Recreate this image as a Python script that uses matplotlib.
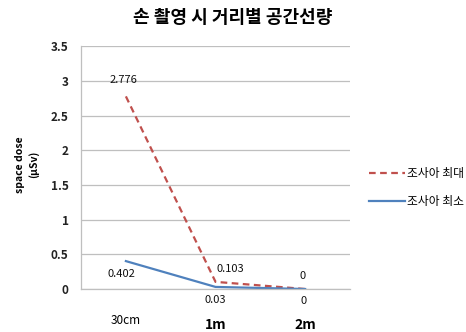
import matplotlib
matplotlib.use("Agg")
import matplotlib.pyplot as plt
from matplotlib.lines import Line2D

plt.rcParams['font.family'] = ['Noto Sans CJK KR', 'DejaVu Sans']

categories = ["30cm", "1m", "2m"]
dose_max = [2.776, 0.103, 0.0]
dose_min = [0.402, 0.03, 0.0]
max_labels = ["2.776", "0.103", "0"]
min_labels = ["0.402", "0.03", "0"]
yticks = [0, 0.5, 1, 1.5, 2, 2.5, 3, 3.5]
ytick_labels = ["0", "0.5", "1", "1.5", "2", "2.5", "3", "3.5"]

red = "#C0504D"
blue = "#4F81BD"
grid_col = "#BFBFBF"

fig = plt.figure(figsize=(4.66, 3.32), dpi=100)
ax = fig.add_axes([0.174, 0.1295, 0.577, 0.7315])

x = list(range(len(categories)))
ax.plot(x, dose_max, color=red, lw=1.6, ls=(0, (3, 2)), label="조사아 최대")
ax.plot(x, dose_min, color=blue, lw=1.6, label="조사아 최소")

ax.set_xlim(-0.5, 2.5)
ax.set_ylim(0, 3.5)
ax.set_yticks(yticks)
ax.set_yticklabels(ytick_labels, fontsize=8.5, fontweight="bold", color="#222222")
ax.yaxis.grid(True, color=grid_col, lw=0.9)
ax.set_axisbelow(True)
ax.tick_params(axis="y", length=0, pad=9)
ax.tick_params(axis="x", length=0)
ax.set_xticks(x)
ax.set_xticklabels([])
for s in ["top", "right"]:
    ax.spines[s].set_visible(False)
for s in ["left", "bottom"]:
    ax.spines[s].set_color(grid_col)
    ax.spines[s].set_linewidth(0.9)

# category labels sit well below the axis
ax.text(0, -0.46, categories[0], ha="center", va="center", fontsize=8.5,
        transform=ax.transData, clip_on=False)
for i in (1, 2):
    ax.text(i, -0.52, categories[i], ha="center", va="center", fontsize=10,
            fontweight="bold", transform=ax.transData, clip_on=False)

# value labels
lab_kw = dict(fontsize=8, color="#111111")
ax.annotate(max_labels[0], (0, dose_max[0]), xytext=(-2, 8), textcoords="offset points",
            ha="center", va="bottom", **lab_kw)
ax.annotate(max_labels[1], (1, dose_max[1]), xytext=(1, 6), textcoords="offset points",
            ha="left", va="bottom", **lab_kw)
ax.annotate(max_labels[2], (2, dose_max[2]), xytext=(-2, 6), textcoords="offset points",
            ha="center", va="bottom", **lab_kw)
ax.annotate(min_labels[0], (0, dose_min[0]), xytext=(-3, -9.5), textcoords="offset points",
            ha="center", va="center", **lab_kw)
ax.annotate(min_labels[1], (1, dose_min[1]), xytext=(0, -6), textcoords="offset points",
            ha="center", va="top", **lab_kw)
ax.annotate(min_labels[2], (2, dose_min[2]), xytext=(-1, -5), textcoords="offset points",
            ha="center", va="top", **lab_kw)

fig.text(0.058, 0.505, "space dose\n(μSv)", rotation=90, ha="center", va="center",
         fontsize=7.5, fontweight="bold", linespacing=1.3)

fig.text(0.5, 0.946, "손 촬영 시 거리별 공간선량", ha="center", va="center",
         fontsize=13, fontweight="bold")

handles = [Line2D([], [], color=red, lw=1.6, ls=(0, (3, 2))),
           Line2D([], [], color=blue, lw=1.6)]
fig.legend(handles, ["조사아 최대", "조사아 최소"], loc="center left",
           bbox_to_anchor=(0.77, 0.435), frameon=False, fontsize=8.5,
           handlelength=3.0, handletextpad=0.2, labelspacing=1.2)

fig.savefig("out.png", dpi=100)
